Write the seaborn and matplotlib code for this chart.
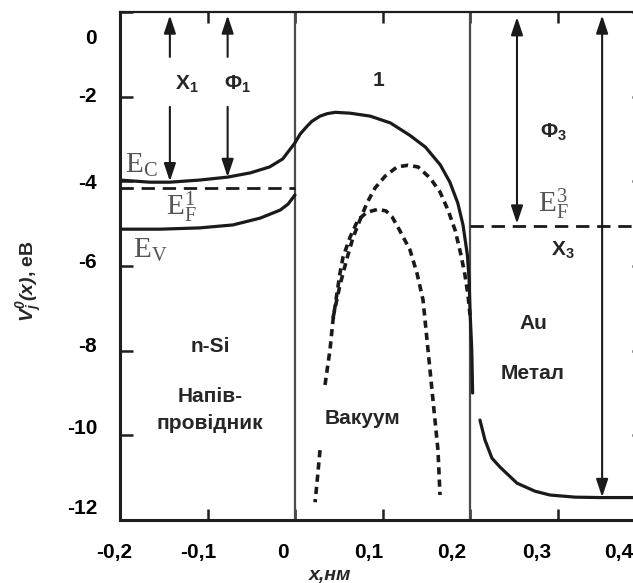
import matplotlib
matplotlib.use("Agg")
import matplotlib.pyplot as plt
from matplotlib.transforms import ScaledTranslation
import seaborn as sns

# Conduction-band edge of n-Si continued as the potential barrier in vacuum
ec_x = [-0.200, -0.166, -0.143, -0.109, -0.077, -0.051, -0.029, -0.014, 0.000,
        0.006, 0.0137, 0.0194, 0.0286, 0.037, 0.046, 0.063, 0.086, 0.109, 0.131, 0.149,
        0.166, 0.177, 0.186, 0.192, 0.197, 0.199, 0.200, 0.202, 0.203]
ec_y = [-3.97, -4.02, -4.02, -3.97, -3.90, -3.80, -3.66, -3.47, -3.09,
        -2.88, -2.70, -2.58, -2.46, -2.40, -2.37, -2.39, -2.46, -2.62, -2.91, -3.19,
        -3.61, -4.02, -4.51, -5.03, -5.74, -6.33, -7.04, -7.98, -9.00]

# Valence-band edge of n-Si
ev_x = [-0.200, -0.154, -0.109, -0.071, -0.040, -0.017, -0.008, 0.000]
ev_y = [-5.13, -5.13, -5.10, -5.03, -4.87, -4.68, -4.54, -4.32]

# Potential inside the Au electrode
metal_x = [0.2114, 0.2171, 0.2251, 0.2343, 0.2537, 0.2743, 0.2914, 0.320, 0.3486, 0.400]
metal_y = [-9.64, -10.11, -10.54, -10.75, -11.13, -11.32, -11.41, -11.46, -11.47, -11.47]

# Image-force barriers in the vacuum gap (dashed)
barrier2_x = [0.0434, 0.0514, 0.0594, 0.0663, 0.0743, 0.0823, 0.0914, 0.1029, 0.1166,
              0.1291, 0.1406, 0.1543, 0.1657, 0.1749, 0.1829, 0.1897, 0.1943, 0.1977, 0.2000]
barrier2_y = [-7.23, -6.45, -5.82, -5.33, -4.91, -4.51, -4.16, -3.88, -3.66,
              -3.62, -3.66, -3.92, -4.25, -4.68, -5.15, -5.74, -6.22, -6.69, -7.16]

barrier3_x = [0.0343, 0.0400, 0.0434, 0.0480, 0.0514, 0.0549, 0.0629, 0.0720, 0.0823,
              0.0949, 0.1040, 0.1110, 0.1194, 0.1314, 0.1394, 0.1463, 0.1520, 0.1577,
              0.1634, 0.1657]
barrier3_y = [-8.81, -7.98, -7.28, -6.64, -6.17, -5.79, -5.32, -4.91, -4.73,
              -4.66, -4.70, -4.84, -5.15, -5.62, -6.17, -6.80, -7.98, -9.17,
              -10.35, -11.41]
barrier3_tail_x = [0.0286, 0.0251, 0.0229]
barrier3_tail_y = [-10.35, -11.13, -11.58]

# Energy levels, eV
vacuum_level = 0.0
fermi_si = -4.16
fermi_au = -5.06
au_bottom = -11.46
ec_at_chi = -4.00
ec_at_phi = -3.90

# Region boundaries, nm
si_span = [-0.2, 0.0]
au_span = [0.2, 0.4]
interfaces = [0.0, 0.2]

# Axis ticks
xticks = [-0.2, -0.1, 0.0, 0.1, 0.2, 0.3, 0.4]
xtick_labels = ["-0,2", "-0,1", "0", "0,1", "0,2", "0,3", "0,4"]
yticks = [0, -2, -4, -6, -8, -10, -12]
ytick_labels = ["0", "-2", "-4", "-6", "-8", "-10", "-12"]

sns.set_style("ticks")
plt.rcParams.update({
    "font.family": ["Liberation Sans", "DejaVu Sans"],
    "font.weight": "bold",
    "mathtext.fontset": "custom",
    "mathtext.rm": "Liberation Serif:style=normal:weight=normal",
    "mathtext.it": "Liberation Serif:style=italic:weight=normal",
    "mathtext.bf": "Liberation Sans:style=normal:weight=bold",
    "mathtext.bfit": "Liberation Sans:style=italic:weight=bold",
    "axes.edgecolor": "#1e1e1e",
    "xtick.color": "#1e1e1e",
    "ytick.color": "#1e1e1e",
    "xtick.labelcolor": "black",
    "ytick.labelcolor": "black",
})

ink = "#1a1a1a"
fig = plt.figure(figsize=(6.33, 5.83), dpi=100)
ax = fig.add_axes([120 / 633, 63 / 583, 525 / 633, 508 / 583])
ax.set_xlim(-0.2, 0.4)
ax.set_ylim(-12, 0)

for xv in interfaces:
    ax.axvline(xv, color="#4a4a4a", lw=1.6, zorder=1)

solid = dict(color=ink, lw=2.3, sort=False, estimator=None, ax=ax)
sns.lineplot(x=ec_x, y=ec_y, **solid)
sns.lineplot(x=ev_x, y=ev_y, **solid)
sns.lineplot(x=metal_x, y=metal_y, **solid)

dotted = dict(color=ink, lw=2.6, sort=False, estimator=None, ax=ax,
              linestyle=(0, (2.0, 1.4)), dash_capstyle="butt")
sns.lineplot(x=barrier2_x, y=barrier2_y, **dotted)
sns.lineplot(x=barrier3_x, y=barrier3_y, **dotted)
sns.lineplot(x=barrier3_tail_x, y=barrier3_tail_y, **dotted)

fermi = dict(color=ink, lw=2.0, sort=False, estimator=None, ax=ax,
             linestyle=(0, (4.8, 2.8)), dash_capstyle="butt")
sns.lineplot(x=si_span, y=[fermi_si, fermi_si], **fermi)
sns.lineplot(x=au_span, y=[fermi_au, fermi_au], **fermi)

# Energy arrows
single = dict(arrowstyle="-|>,head_length=0.9,head_width=0.3", mutation_scale=12,
              lw=1.5, color=ink, shrinkA=0, shrinkB=0)
double = dict(arrowstyle="<|-|>,head_length=0.9,head_width=0.3", mutation_scale=12,
              lw=1.5, color=ink, shrinkA=0, shrinkB=0)
top_tip = vacuum_level - 0.08
for xa, ya in [(-0.143, ec_at_chi), (-0.077, ec_at_phi)]:
    ax.annotate("", xy=(xa, top_tip), xytext=(xa, -1.06), arrowprops=single)
    ax.annotate("", xy=(xa, ya), xytext=(xa, -2.24), arrowprops=single)
ax.annotate("", xy=(0.2537, fermi_au + 0.06), xytext=(0.2537, top_tip - 0.04),
            arrowprops=double)
ax.annotate("", xy=(0.351, au_bottom), xytext=(0.351, top_tip), arrowprops=double)

# Labels of quantities
fs = 15
ax.text(-0.1234, -1.68, r"$\mathbf{X}_{\mathbf{1}}$", fontsize=fs, ha="center", va="center")
ax.text(-0.0663, -1.68, r"$\mathbf{Φ}_{\mathbf{1}}$", fontsize=fs, ha="center", va="center")
ax.text(0.2949, -2.83, r"$\mathbf{Φ}_{\mathbf{3}}$", fontsize=fs, ha="center", va="center")
ax.text(0.3063, -5.62, r"$\mathbf{X}_{\mathbf{3}}$", fontsize=fs, ha="center", va="center")
ax.text(0.0949, -1.61, "1", fontsize=fs, ha="center", va="center")

grey = "#555555"
ax.text(-0.1943, -3.80, r"$\mathrm{E}_\mathrm{C}$", fontsize=21, color=grey, va="baseline")
ax.text(-0.1474, -4.80, r"$\mathrm{E}_\mathrm{F}^\mathrm{1}$", fontsize=21, color=grey, va="baseline")
ax.text(-0.1851, -5.81, r"$\mathrm{E}_\mathrm{V}$", fontsize=21, color=grey, va="baseline")
ax.text(0.2777, -4.72, r"$\mathrm{E}_\mathrm{F}^\mathrm{3}$", fontsize=21, color=grey, va="baseline")

# Region names
ax.text(-0.0971, -7.91, "n-Si", fontsize=fs, ha="center", va="center")
ax.text(-0.0971, -9.09, "Напів-", fontsize=fs, ha="center", va="center")
ax.text(-0.0971, -9.71, "провідник", fontsize=fs, ha="center", va="center")
ax.text(0.0777, -9.60, "Вакуум", fontsize=fs, ha="center", va="center")
ax.text(0.272, -7.35, "Au", fontsize=fs, ha="center", va="center")
ax.text(0.272, -8.53, "Метал", fontsize=fs, ha="center", va="center")

# Axes frame and ticks
ax.spines["right"].set_visible(False)
ax.spines["top"].set_linewidth(1.6)
ax.spines["left"].set_linewidth(2.2)
ax.spines["bottom"].set_linewidth(2.2)
ax.set_xticks(xticks)
ax.set_xticklabels(xtick_labels)
ax.set_yticks(yticks)
ax.set_yticklabels(ytick_labels)
ax.tick_params(axis="x", direction="in", top=True, length=8, width=1.8,
               pad=16.5, labelsize=15)
ax.tick_params(axis="y", direction="in", right=True, length=9.5, width=1.8,
               pad=16.5, labelsize=15)

xlabel_shift_px = [-6, -9, -12, -14, -18, -21, -26]
ylabel_shift_px = [25, -2, 0, -5, -6, -9, -13]
for lab, dx in zip(ax.get_xticklabels(), xlabel_shift_px):
    lab.set_transform(lab.get_transform() + ScaledTranslation(dx / 100, 0, fig.dpi_scale_trans))
for lab, dy in zip(ax.get_yticklabels(), ylabel_shift_px):
    lab.set_transform(lab.get_transform() + ScaledTranslation(0, -dy / 100, fig.dpi_scale_trans))

ax.set_xlabel("x,нм", fontsize=14, fontstyle="italic", fontweight="bold")
ax.xaxis.set_label_coords(0.400, -0.092)
ax.set_ylabel(r"$\mathbfit{V}_{\mathbfit{j}}^{\mathbfit{0}}\mathbfit{(x)}$, eB",
              fontsize=14, fontweight="bold")
ax.yaxis.set_label_coords(-0.145, 0.47)

fig.savefig("out.png", dpi=100)
